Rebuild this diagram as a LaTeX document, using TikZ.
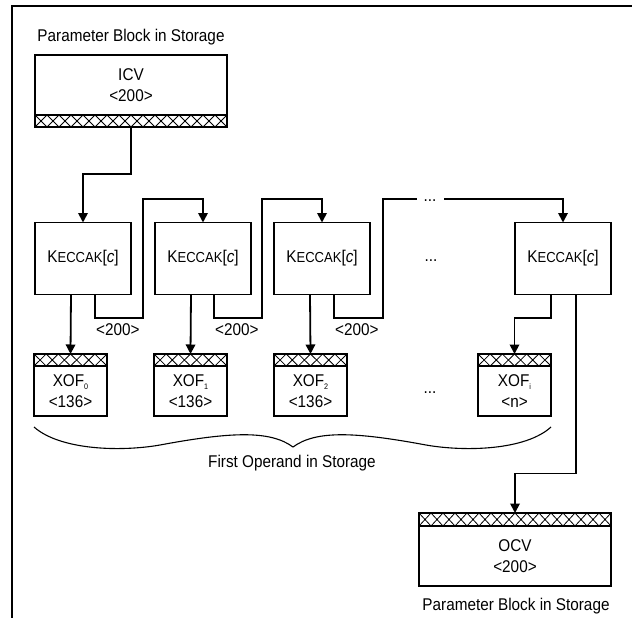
\documentclass[tikz,border=0pt]{standalone}
\usepackage{fontspec}
\setmainfont[FakeStretch=0.9]{Liberation Sans}
\usetikzlibrary{arrows.meta,calc}
\newcommand\ksc{K{\fontsize{14.5}{20}\selectfont ECCAK}[\textit{c}]}
\newcommand\xsub[1]{\raisebox{-3pt}{\fontsize{8}{8}\selectfont #1}}
\newcommand\xband[2]{%
  \begin{scope}
    \clip (#1.north west) rectangle (#1.south east);
    \foreach \i in {1,...,#2}{
      \draw[hatch] ($(#1.north west)!{(\i-1)/#2}!(#1.north east)$) -- ($(#1.south west)!{\i/#2}!(#1.south east)$)
                   ($(#1.south west)!{(\i-1)/#2}!(#1.south east)$) -- ($(#1.north west)!{\i/#2}!(#1.north east)$);
    }
  \end{scope}
  \draw[line width=1.8pt] (#1.north west) rectangle (#1.south east);}
\begin{document}
\begin{tikzpicture}[x=1pt,y=-1pt,
  every node/.style={font=\fontsize{17}{20}\selectfont},
  box/.style={draw, line width=1.8pt, outer sep=0pt, inner sep=0pt, align=center, fill=white},
  mbox/.style={box, minimum width=192pt, minimum height=60pt},
  kbox/.style={box, minimum width=96pt, minimum height=72pt},
  xbox/.style={box, minimum width=73pt, minimum height=50pt},
  lband/.style={box, minimum width=192pt, minimum height=12pt},
  sband/.style={box, minimum width=73pt, minimum height=12pt},
  wire/.style={line width=1.8pt},
  arr/.style={wire, -{Triangle[width=9.5pt,length=9.5pt]}},
  hatch/.style={line width=0.8pt},
  lbl/.style={inner sep=0pt}]
\useasboundingbox (0,0) rectangle (632,618);
% frame
\draw[line width=2pt] (12,618) -- (12,6) -- (632,6);

% titles
\node[lbl] (t1) at (131,37) {Parameter Block in Storage};
\node[lbl] (t2) at (516,606) {Parameter Block in Storage};
\node[lbl] (t3) at (292,463) {First Operand in Storage};

% ICV
\node[mbox] (icv) at (131,85) {ICV\\[1pt]<200>};
\node[lband] (icvh) at (131,121) {};
\xband{icvh}{16}

% Keccak boxes
\node[kbox] (k1) at (83,258.5) {\ksc};
\node[kbox] (k2) at (203,258.5) {\ksc};
\node[kbox] (k3) at (322,258.5) {\ksc};
\node[kbox] (k4) at (563,258.5) {\ksc};
\node[lbl, anchor=base] (dm) at (431,261) {...};

% XOF boxes
\node[sband] (x0h) at (70.5,360) {};
\node[xbox] (x0) at (70.5,391) {XOF\xsub{0}\\[1pt]<136>};
\node[sband] (x1h) at (190.5,360) {};
\node[xbox] (x1) at (190.5,391) {XOF\xsub{1}\\[1pt]<136>};
\node[sband] (x2h) at (310.5,360) {};
\node[xbox] (x2) at (310.5,391) {XOF\xsub{2}\\[1pt]<136>};
\node[sband] (xih) at (514.5,360) {};
\node[xbox] (xi) at (514.5,391) {XOF\xsub{i}\\[1pt]<n>};
\xband{x0h}{6}
\xband{x1h}{6}
\xband{x2h}{6}
\xband{xih}{6}
\node[lbl, anchor=base] (dx) at (430,393) {...};

% OCV
\node[lband, minimum height=13pt] (ocvh) at (515,519.5) {};
\node[mbox] (ocv) at (515,556) {OCV\\[1pt]<200>};
\xband{ocvh}{16}

% turning points
\coordinate (u1) at (143,199);
\coordinate (u2) at (262,199);
\coordinate (u3) at (383,199);
\coordinate (g1) at (417,199);
\coordinate (g2) at (444,199);
\node[lbl, anchor=base] (dt) at (430,201) {...};

% connectors
\draw[arr] (icvh.south) -- ++(0,47) -| (k1.north);
\draw[arr] ([xshift=12pt]k1.south) -- ++(0,23.5) -| (u1) -| (k2.north);
\draw[arr] ([xshift=11pt]k2.south) -- ++(0,23.5) -| (u2) -| (k3.north);
\draw[wire] ([xshift=12pt]k3.south) -- ++(0,23.5) -| (u3) -- (g1);
\draw[arr] (g2) -| (k4.north);

\draw[arr] ([xshift=-12pt]k1.south) -- (x0h.north);
\draw[arr] ([xshift=-12pt]k2.south) -- (x1h.north);
\draw[arr] ([xshift=-12pt]k3.south) -- (x2h.north);
\draw[arr] ([xshift=-12pt]k4.south) -- ++(0,23.5) -| (xih.north);
\draw[arr] ([xshift=13pt]k4.south) -- ++(0,179) -| (ocvh.north);

% <200> labels
\node[lbl, anchor=west] (l1) at (96,330) {<200>};
\node[lbl, anchor=west] (l2) at (215,330) {<200>};
\node[lbl, anchor=west] (l3) at (335,330) {<200>};

% brace
\draw[line width=1.1pt] (34,427) .. controls (60,450) and (120,452) .. (160,445)
  .. controls (230,432) and (270,430) .. (293,447)
  .. controls (316,430) and (356,432) .. (426,445)
  .. controls (466,452) and (526,450) .. (551,427);
\end{tikzpicture}
\end{document}
